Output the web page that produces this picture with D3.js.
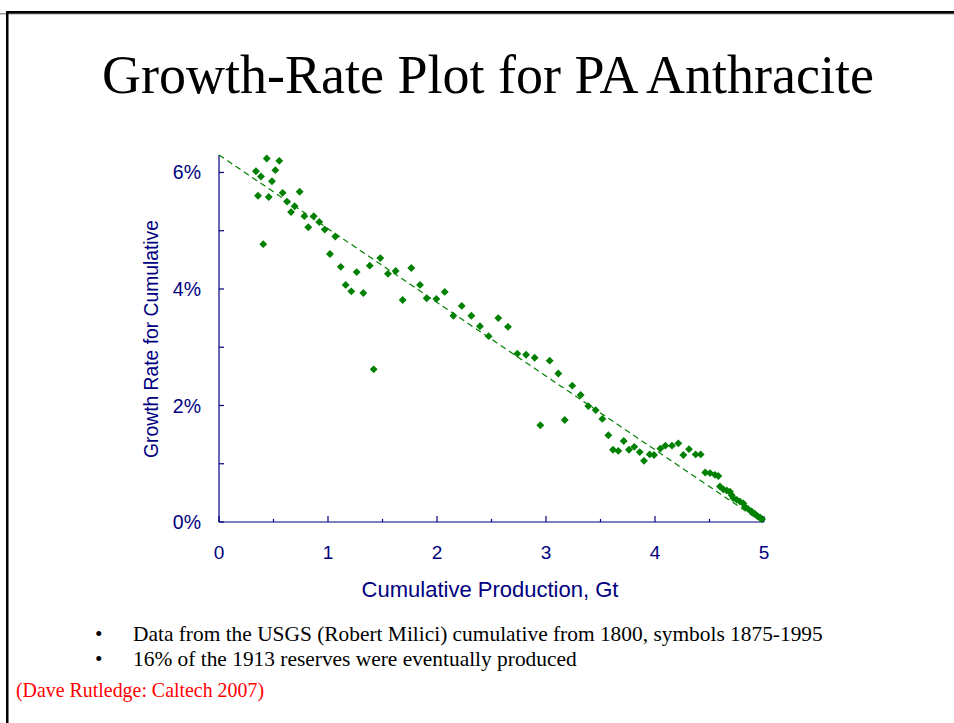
<!DOCTYPE html>
<html>
<head>
<meta charset="utf-8">
<script src="https://cdnjs.cloudflare.com/ajax/libs/d3/7.8.5/d3.min.js"></script>
<style>
  body { margin: 0; background: #fff; }
</style>
</head>
<body>
<div id="chart"></div>
<script>
// cumulative production (Gt) and growth rate of cumulative (%)
const cumulative = [0.339, 0.358, 0.385, 0.406, 0.438, 0.456, 0.486, 0.517, 0.553, 0.584,
  0.624, 0.661, 0.694, 0.740, 0.783, 0.819, 0.869, 0.920, 0.970, 1.018,
  1.067, 1.117, 1.162, 1.214, 1.263, 1.324, 1.383, 1.419, 1.480, 1.550,
  1.621, 1.685, 1.764, 1.844, 1.905, 1.994, 2.071, 2.150, 2.227, 2.315,
  2.394, 2.474, 2.562, 2.651, 2.737, 2.817, 2.896, 2.948, 3.034, 3.113,
  3.172, 3.241, 3.318, 3.388, 3.456, 3.517, 3.572, 3.615, 3.663, 3.713,
  3.761, 3.810, 3.860, 3.899, 3.951, 3.991, 4.049, 4.095, 4.156, 4.214,
  4.260, 4.312, 4.373, 4.419, 4.461, 4.505, 4.550, 4.581, 4.596, 4.627,
  4.658, 4.688, 4.704, 4.718, 4.750, 4.780, 4.810, 4.826, 4.856, 4.887,
  4.917, 4.939, 4.963, 4.982];
const growth = [6.02, 5.60, 5.93, 4.77, 6.24, 5.58, 5.85, 6.04, 6.20, 5.65,
  5.50, 5.32, 5.42, 5.67, 5.25, 5.06, 5.25, 5.15, 5.02, 4.60,
  4.90, 4.38, 4.07, 3.96, 4.29, 3.93, 4.40, 2.62, 4.53, 4.26,
  4.31, 3.81, 4.36, 4.07, 3.84, 3.83, 3.95, 3.54, 3.71, 3.54,
  3.36, 3.19, 3.50, 3.35, 2.89, 2.87, 2.82, 1.66, 2.77, 2.55,
  1.75, 2.34, 2.18, 1.99, 1.92, 1.77, 1.49, 1.24, 1.22, 1.39,
  1.24, 1.29, 1.20, 1.05, 1.16, 1.15, 1.26, 1.31, 1.31, 1.35,
  1.15, 1.25, 1.16, 1.16, 0.85, 0.84, 0.81, 0.79, 0.61, 0.56,
  0.54, 0.52, 0.46, 0.41, 0.38, 0.35, 0.32, 0.26, 0.22, 0.18,
  0.14, 0.10, 0.08, 0.05];
// dashed fit line end points
const fitX = [0, 4.98];
const fitY = [6.3, 0];

const yTicks = [0, 1, 2, 3, 4, 5, 6];
const yLabels = [0, 2, 4, 6];
const xTicks = [0, 0.5, 1, 1.5, 2, 2.5, 3, 3.5, 4, 4.5, 5];
const xLabels = [0, 1, 2, 3, 4, 5];

const bullets = [
  "Data from the USGS (Robert Milici) cumulative from 1800, symbols 1875-1995",
  "16% of the 1913 reserves were eventually produced"
];

const width = 954, height = 723;
const margin = { top: 155, bottom: 201, left: 219, right: 190 };
const navy = "#000080", green = "#008000";

const svg = d3.select("#chart").append("svg")
  .attr("width", width)
  .attr("height", height);

// slide frame
svg.append("rect").attr("x", 0).attr("y", 13).attr("width", width).attr("height", 1.5).attr("fill", "#999");
svg.append("rect").attr("x", 6).attr("y", 11).attr("width", width - 6).attr("height", 2.5).attr("fill", "#000");
svg.append("rect").attr("x", 6).attr("y", 11).attr("width", 2.5).attr("height", height - 11).attr("fill", "#000");

// title
svg.append("text")
  .attr("x", 488).attr("y", 93)
  .attr("text-anchor", "middle")
  .style("font-family", "'Liberation Serif', 'Times New Roman', serif")
  .style("font-size", "54px")
  .text("Growth-Rate Plot for PA Anthracite");

const x = d3.scaleLinear().domain([0, 5]).range([margin.left, width - margin.right]);
const y = d3.scaleLinear().domain([0, 6.3]).range([height - margin.bottom, margin.top]);

// axes
const gy = svg.append("g").attr("transform", `translate(${margin.left},0)`);
gy.append("line").attr("x1", 0).attr("x2", 0).attr("y1", y(6.3)).attr("y2", y(0))
  .attr("stroke", navy).attr("stroke-width", 1.2);
gy.selectAll(".yt").data(yTicks).join("line")
  .attr("x1", 0).attr("x2", 5).attr("y1", d => y(d)).attr("y2", d => y(d))
  .attr("stroke", navy).attr("stroke-width", 1.2);
gy.selectAll(".yl").data(yLabels).join("text")
  .attr("x", -18).attr("y", d => y(d)).attr("dy", "0.36em")
  .attr("text-anchor", "end")
  .attr("fill", navy)
  .style("font-family", "'Liberation Sans', Arial, sans-serif")
  .style("font-size", "19.5px")
  .text(d => d + "%");

const gx = svg.append("g").attr("transform", `translate(0,${y(0)})`);
gx.append("line").attr("x1", x(0)).attr("x2", x(5)).attr("y1", 0).attr("y2", 0)
  .attr("stroke", navy).attr("stroke-width", 1.2);
gx.selectAll(".xt").data(xTicks).join("line")
  .attr("x1", d => x(d)).attr("x2", d => x(d))
  .attr("y1", 0).attr("y2", d => Number.isInteger(d) ? -6 : -3)
  .attr("stroke", navy).attr("stroke-width", 1.2);
gx.selectAll(".xl").data(xLabels).join("text")
  .attr("x", d => x(d)).attr("y", 37)
  .attr("text-anchor", "middle")
  .attr("fill", navy)
  .style("font-family", "'Liberation Sans', Arial, sans-serif")
  .style("font-size", "19px")
  .text(d => d);

// axis titles
svg.append("text")
  .attr("transform", `translate(158,339) rotate(-90)`)
  .attr("text-anchor", "middle")
  .attr("fill", navy)
  .style("font-family", "'Liberation Sans', Arial, sans-serif")
  .style("font-size", "19.3px")
  .text("Growth Rate for Cumulative");

svg.append("text")
  .attr("x", 490).attr("y", 597)
  .attr("text-anchor", "middle")
  .attr("fill", navy)
  .style("font-family", "'Liberation Sans', Arial, sans-serif")
  .style("font-size", "22px")
  .text("Cumulative Production, Gt");

// fit line
svg.append("line")
  .attr("x1", x(fitX[0])).attr("y1", y(fitY[0]))
  .attr("x2", x(fitX[1])).attr("y2", y(fitY[1]))
  .attr("stroke", green).attr("stroke-width", 1.2)
  .attr("stroke-dasharray", "6,4");

// points
const pts = cumulative.map((c, i) => ({ c: c, g: growth[i] }));
svg.append("g").selectAll("path").data(pts).join("path")
  .attr("d", d3.symbol(d3.symbolSquare, 31))
  .attr("transform", d => `translate(${x(d.c)},${y(d.g)}) rotate(45)`)
  .attr("fill", green);

// bullets
const gb = svg.append("g")
  .style("font-family", "'Liberation Serif', 'Times New Roman', serif")
  .style("font-size", "21.4px");
gb.selectAll(".dot").data(bullets).join("text")
  .attr("x", 95).attr("y", (d, i) => 641 + i * 25)
  .text("•");
gb.selectAll(".bt").data(bullets).join("text")
  .attr("x", 133).attr("y", (d, i) => 641 + i * 25)
  .text(d => d);

svg.append("text")
  .attr("x", 16).attr("y", 697)
  .attr("fill", "#ff0000")
  .style("font-family", "'Liberation Serif', 'Times New Roman', serif")
  .style("font-size", "19.9px")
  .text("(Dave Rutledge: Caltech 2007)");
</script>
</body>
</html>
